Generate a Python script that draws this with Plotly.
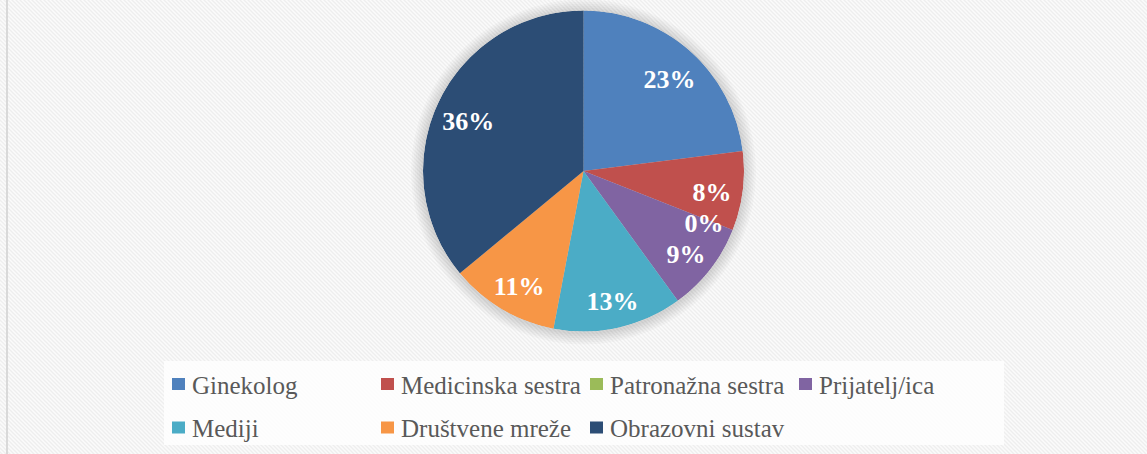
import base64
import plotly.graph_objects as go

# ---- data -----------------------------------------------------------------
categories = ["Ginekolog", "Medicinska sestra", "Patronažna sestra", "Prijatelj/ica",
              "Mediji", "Društvene mreže", "Obrazovni sustav"]
shares = [23, 8, 0, 9, 13, 11, 36]
colors = ["#4F81BD", "#C0504D", "#9BBB59", "#8064A2", "#4BACC6", "#F79646", "#2C4D75"]

# ---- canvas ---------------------------------------------------------------
W, H = 1147, 454


def px(x):
    return x / W


def py(y):
    return 1 - y / H


# pie placement (pixels)
PIE_L, PIE_R, PIE_T, PIE_B = 423, 744, 10.5, 331.5
pie_domain = dict(x=[px(PIE_L), px(PIE_R)], y=[py(PIE_B), py(PIE_T)])
# label frame: same circle, nudged down so the digits sit a bit lower
LBL_DX, LBL_DY = 1, 7
label_domain = dict(x=[px(PIE_L + LBL_DX), px(PIE_R + LBL_DX)],
                    y=[py(PIE_B + LBL_DY), py(PIE_T + LBL_DY)])
cx, cy = (PIE_L + PIE_R) / 2, (PIE_T + PIE_B) / 2
radius = (PIE_R - PIE_L) / 2

label_font = dict(family="Liberation Serif", size=26, color="white")
legend_font = dict(family="Liberation Serif", size=25, color="#595959")

# slice centres and angular widths, clockwise from 12 o'clock
total = sum(shares)
widths = [v / total * 360 for v in shares]
mids, acc = [], 0
for v in shares:
    mids.append((acc + v / 2) / total * 360)
    acc += v

fig = go.Figure()
# pie slices as full-radius polar bars
fig.add_trace(go.Barpolar(
    r=[1] * len(shares), theta=mids, width=widths, base=0,
    marker=dict(color=colors, line=dict(width=0)),
    customdata=categories, text=[f"{v}%" for v in shares],
    hovertemplate="%{customdata}: %{text}<extra></extra>", showlegend=False,
))
# percentage labels
fig.add_trace(go.Scatterpolar(
    r=[0.8] * len(shares), theta=mids, mode="text", subplot="polar2",
    text=[f"<b>{v}%</b>" for v in shares], textfont=label_font,
    textposition="middle center", hoverinfo="skip", showlegend=False,
))

# ---- striped background ---------------------------------------------------
svg = (
    f'<svg xmlns="http://www.w3.org/2000/svg" width="{W}" height="{H}">'
    '<defs><pattern id="s" width="4" height="4" patternUnits="userSpaceOnUse">'
    '<rect width="4" height="4" fill="#fbfbfb"/>'
    '<path d="M-1,-1 L5,5 M-1,3 L1,5 M3,-1 L5,1" stroke="#eeeeee" stroke-width="1.3"/>'
    '</pattern></defs><rect width="100%" height="100%" fill="url(#s)"/></svg>'
)
bg_uri = "data:image/svg+xml;base64," + base64.b64encode(svg.encode()).decode()

shapes = []
# soft halo around the pie
for k in range(1, 7):
    rr = radius + 2 * k
    shapes.append(dict(
        type="circle", xref="paper", yref="paper", layer="below",
        xsizemode="pixel", ysizemode="pixel", xanchor=px(cx), yanchor=py(cy + 1),
        x0=-rr, x1=rr, y0=-rr, y1=rr,
        fillcolor="rgba(0,0,0,0.022)", line=dict(width=0),
    ))
# left frame edge
shapes.append(dict(type="line", xref="paper", yref="paper", x0=px(7), x1=px(7), y0=0, y1=1,
                   line=dict(color="#d9d9d9", width=2)))
# legend panel
shapes.append(dict(type="rect", xref="paper", yref="paper", layer="below",
                   x0=px(164), x1=px(1004), y0=py(445), y1=py(361),
                   fillcolor="rgba(255,255,255,0.8)", line=dict(width=0)))

# ---- legend (4 columns, 2 rows) -------------------------------------------
annotations = []
TEXT_X0, COL_W = 190, 209
ROW_Y = [384, 427.5]
for i, (name, col) in enumerate(zip(categories, colors)):
    tx = TEXT_X0 + (i % 4) * COL_W
    ry = ROW_Y[i // 4]
    shapes.append(dict(type="rect", xref="paper", yref="paper",
                       x0=px(tx - 18), x1=px(tx - 5), y0=py(ry + 6), y1=py(ry - 6),
                       fillcolor=col, line=dict(width=0)))
    annotations.append(dict(text=name, x=px(tx), y=py(ry + 1), xref="paper", yref="paper",
                            xanchor="left", yanchor="middle", showarrow=False, font=legend_font))

hidden_angular = dict(rotation=90, direction="clockwise", visible=False,
                      showgrid=False, showline=False)
hidden_radial = dict(range=[0, 1], visible=False, showgrid=False)

fig.update_layout(
    width=W, height=H, margin=dict(l=0, r=0, t=0, b=0),
    paper_bgcolor="white", plot_bgcolor="rgba(0,0,0,0)",
    polar=dict(domain=pie_domain, bgcolor="rgba(0,0,0,0)", bargap=0,
               radialaxis=hidden_radial, angularaxis=hidden_angular),
    polar2=dict(domain=label_domain, bgcolor="rgba(0,0,0,0)",
                radialaxis=hidden_radial, angularaxis=hidden_angular),
    images=[dict(source=bg_uri, xref="paper", yref="paper", x=0, y=1, sizex=1, sizey=1,
                 sizing="stretch", layer="below", xanchor="left", yanchor="top")],
    shapes=shapes, annotations=annotations, showlegend=False,
)

fig.write_html("out.html")
